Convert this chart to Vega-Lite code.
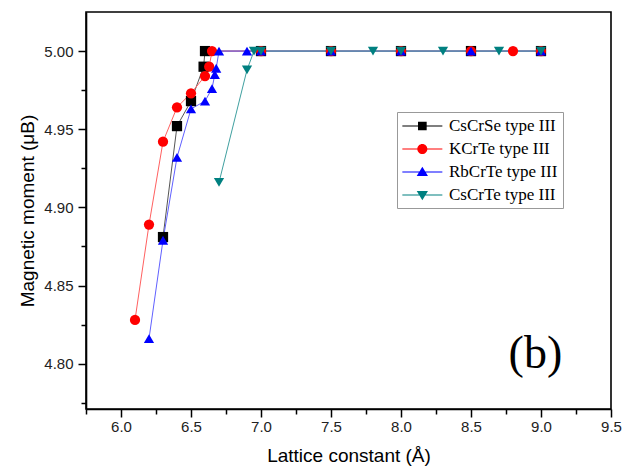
{
  "$schema": "https://vega.github.io/schema/vega-lite/v6.json",
  "width": 525,
  "height": 397,
  "autosize": "none",
  "padding": {"left": 86, "top": 12, "right": 13, "bottom": 57},
  "background": "white",
  "config": {
    "view": {"stroke": "black", "strokeWidth": 1.6},
    "axis": {
      "grid": false,
      "domainColor": "black",
      "domainWidth": 1.6,
      "tickColor": "black",
      "tickWidth": 1.5,
      "labelFont": "Liberation Sans",
      "labelFontSize": 15,
      "labelColor": "#222",
      "titleFont": "Liberation Sans",
      "titleFontSize": 19,
      "titleFontWeight": "normal",
      "titleColor": "black",
      "labelOverlap": false,
      "labelFlush": false
    }
  },
  "datasets": {
    "pts": [
      {"series": "CsCrSe type III", "x": 6.3, "y": 4.881},
      {"series": "CsCrSe type III", "x": 6.4, "y": 4.952},
      {"series": "CsCrSe type III", "x": 6.5, "y": 4.968},
      {"series": "CsCrSe type III", "x": 6.59, "y": 4.99},
      {"series": "CsCrSe type III", "x": 6.6, "y": 5.0},
      {"series": "CsCrSe type III", "x": 7.0, "y": 5.0},
      {"series": "CsCrSe type III", "x": 7.5, "y": 5.0},
      {"series": "CsCrSe type III", "x": 8.0, "y": 5.0},
      {"series": "CsCrSe type III", "x": 8.5, "y": 5.0},
      {"series": "CsCrSe type III", "x": 9.0, "y": 5.0},
      {"series": "KCrTe type III", "x": 6.1, "y": 4.828},
      {"series": "KCrTe type III", "x": 6.2, "y": 4.889},
      {"series": "KCrTe type III", "x": 6.3, "y": 4.942},
      {"series": "KCrTe type III", "x": 6.4, "y": 4.964},
      {"series": "KCrTe type III", "x": 6.5, "y": 4.973},
      {"series": "KCrTe type III", "x": 6.6, "y": 4.984},
      {"series": "KCrTe type III", "x": 6.63, "y": 4.99},
      {"series": "KCrTe type III", "x": 6.65, "y": 5.0},
      {"series": "KCrTe type III", "x": 7.0, "y": 5.0},
      {"series": "KCrTe type III", "x": 7.5, "y": 5.0},
      {"series": "KCrTe type III", "x": 8.0, "y": 5.0},
      {"series": "KCrTe type III", "x": 8.5, "y": 5.0},
      {"series": "KCrTe type III", "x": 8.8, "y": 5.0},
      {"series": "KCrTe type III", "x": 9.0, "y": 5.0},
      {"series": "RbCrTe type III", "x": 6.2, "y": 4.816},
      {"series": "RbCrTe type III", "x": 6.3, "y": 4.879},
      {"series": "RbCrTe type III", "x": 6.4, "y": 4.932},
      {"series": "RbCrTe type III", "x": 6.5, "y": 4.963},
      {"series": "RbCrTe type III", "x": 6.6, "y": 4.968},
      {"series": "RbCrTe type III", "x": 6.65, "y": 4.976},
      {"series": "RbCrTe type III", "x": 6.67, "y": 4.985},
      {"series": "RbCrTe type III", "x": 6.68, "y": 4.989},
      {"series": "RbCrTe type III", "x": 6.7, "y": 5.0},
      {"series": "RbCrTe type III", "x": 6.9, "y": 5.0},
      {"series": "RbCrTe type III", "x": 7.0, "y": 5.0},
      {"series": "RbCrTe type III", "x": 7.5, "y": 5.0},
      {"series": "RbCrTe type III", "x": 8.0, "y": 5.0},
      {"series": "RbCrTe type III", "x": 8.5, "y": 5.0},
      {"series": "RbCrTe type III", "x": 9.0, "y": 5.0},
      {"series": "CsCrTe type III", "x": 6.7, "y": 4.916},
      {"series": "CsCrTe type III", "x": 6.9, "y": 4.988},
      {"series": "CsCrTe type III", "x": 6.95, "y": 5.0},
      {"series": "CsCrTe type III", "x": 7.0, "y": 5.0},
      {"series": "CsCrTe type III", "x": 7.5, "y": 5.0},
      {"series": "CsCrTe type III", "x": 7.8, "y": 5.0},
      {"series": "CsCrTe type III", "x": 8.0, "y": 5.0},
      {"series": "CsCrTe type III", "x": 8.3, "y": 5.0},
      {"series": "CsCrTe type III", "x": 8.7, "y": 5.0},
      {"series": "CsCrTe type III", "x": 9.0, "y": 5.0}
    ],
    "ann": [{"x": 8.96, "y": 4.806, "label": "(b)"}]
  },
  "layer": [
    {
      "data": {"name": "pts"},
      "mark": {"type": "line", "strokeWidth": 1, "clip": true},
      "encoding": {
        "x": {
          "field": "x", "type": "quantitative",
          "scale": {"domain": [5.75, 9.5], "nice": false, "zero": false},
          "axis": {
            "orient": "bottom",
            "title": "Lattice constant (Å)",
            "values": [6, 6.5, 7, 7.5, 8, 8.5, 9, 9.5],
            "format": ".1f",
            "tickSize": 8,
            "labelPadding": 2,
            "titlePadding": 12
          }
        },
        "y": {
          "field": "y", "type": "quantitative",
          "scale": {"domain": [4.771, 5.025], "nice": false, "zero": false},
          "axis": {
            "title": "Magnetic moment (μB)",
            "values": [4.775, 4.8, 4.825, 4.85, 4.875, 4.9, 4.925, 4.95, 4.975, 5.0],
            "labelExpr": "abs(datum.value*20 - round(datum.value*20)) > 0.01 ? '' : format(datum.value, '.2f')",
            "tickSize": {"condition": {"test": "abs(datum.value*20 - round(datum.value*20)) > 0.01", "value": 5}, "value": 8},
            "labelPadding": 5,
            "titlePadding": 6
          }
        },
        "color": {
          "field": "series", "type": "nominal",
          "scale": {
            "domain": ["CsCrSe type III", "KCrTe type III", "RbCrTe type III", "CsCrTe type III"],
            "range": ["#555555", "#ff6060", "#6060ff", "#40a0a0"]
          },
          "legend": null
        }
      }
    },
    {
      "data": {"name": "pts"},
      "mark": {"type": "point", "filled": true, "opacity": 1, "size": 105, "clip": true},
      "encoding": {
        "x": {
          "field": "x", "type": "quantitative",
          "axis": {
            "orient": "bottom",
            "title": null,
            "values": [5.75, 6.25, 6.75, 7.25, 7.75, 8.25, 8.75, 9.25],
            "labels": false,
            "domain": false,
            "tickSize": 5
          }
        },
        "y": {"field": "y", "type": "quantitative"},
        "color": {
          "field": "series", "type": "nominal",
          "scale": {
            "domain": ["CsCrSe type III", "KCrTe type III", "RbCrTe type III", "CsCrTe type III"],
            "range": ["#000000", "#ff0000", "#0000ff", "#008080"]
          },
          "legend": null
        },
        "shape": {
          "field": "series", "type": "nominal",
          "scale": {
            "domain": ["CsCrSe type III", "KCrTe type III", "RbCrTe type III", "CsCrTe type III"],
            "range": ["square", "circle", "triangle-up", "triangle-down"]
          },
          "legend": null
        }
      }
    },
    {
      "data": {"name": "pts"},
      "transform": [{"filter": "datum.x > 100"}],
      "mark": {"type": "point", "filled": true, "opacity": 1},
      "encoding": {
        "x": {"field": "x", "type": "quantitative", "axis": null},
        "y": {"field": "y", "type": "quantitative"},
        "color": {
          "field": "series", "type": "nominal",
          "scale": {
            "domain": ["CsCrSe type III", "KCrTe type III", "RbCrTe type III", "CsCrTe type III"],
            "range": ["#000000", "#ff0000", "#0000ff", "#008080"]
          },
          "legend": {
            "orient": "none", "legendX": 311, "legendY": 100, "title": null,
            "strokeColor": "#999", "fillColor": "white", "padding": 5,
            "labelFont": "Liberation Serif", "labelFontSize": 17, "labelColor": "black",
            "symbolSize": 300, "symbolStrokeWidth": 0, "rowPadding": 6, "labelOffset": 29,
            "symbolOpacity": 1
          }
        },
        "shape": {
          "field": "series", "type": "nominal",
          "scale": {
            "domain": ["CsCrSe type III", "KCrTe type III", "RbCrTe type III", "CsCrTe type III"],
            "range": [
              "M-1,-0.06H3.62V0.06H-1Z M0.81,-0.5H1.81V0.5H0.81Z",
              "M-1,-0.06H3.62V0.06H-1Z M1.89,0A0.58,0.58 0 1,1 0.73,0A0.58,0.58 0 1,1 1.89,0Z",
              "M-1,-0.06H3.62V0.06H-1Z M1.31,-0.62L1.96,0.45L0.66,0.45Z",
              "M-1,-0.06H3.62V0.06H-1Z M1.31,0.62L0.66,-0.45L1.96,-0.45Z"
            ]
          },
          "legend": {
            "orient": "none", "legendX": 311, "legendY": 100, "title": null,
            "strokeColor": "#999", "fillColor": "white", "padding": 5,
            "labelFont": "Liberation Serif", "labelFontSize": 17, "labelColor": "black",
            "symbolSize": 300, "symbolStrokeWidth": 0, "rowPadding": 6, "labelOffset": 29,
            "symbolOpacity": 1
          }
        }
      }
    },
    {
      "data": {"name": "ann"},
      "mark": {"type": "text", "font": "Liberation Serif", "fontSize": 46, "align": "center", "baseline": "middle", "color": "black"},
      "encoding": {
        "x": {"field": "x", "type": "quantitative", "axis": null},
        "y": {"field": "y", "type": "quantitative"},
        "text": {"field": "label"}
      }
    }
  ],
  "resolve": {"scale": {"color": "independent", "shape": "independent"}, "axis": {"x": "independent"}}
}
